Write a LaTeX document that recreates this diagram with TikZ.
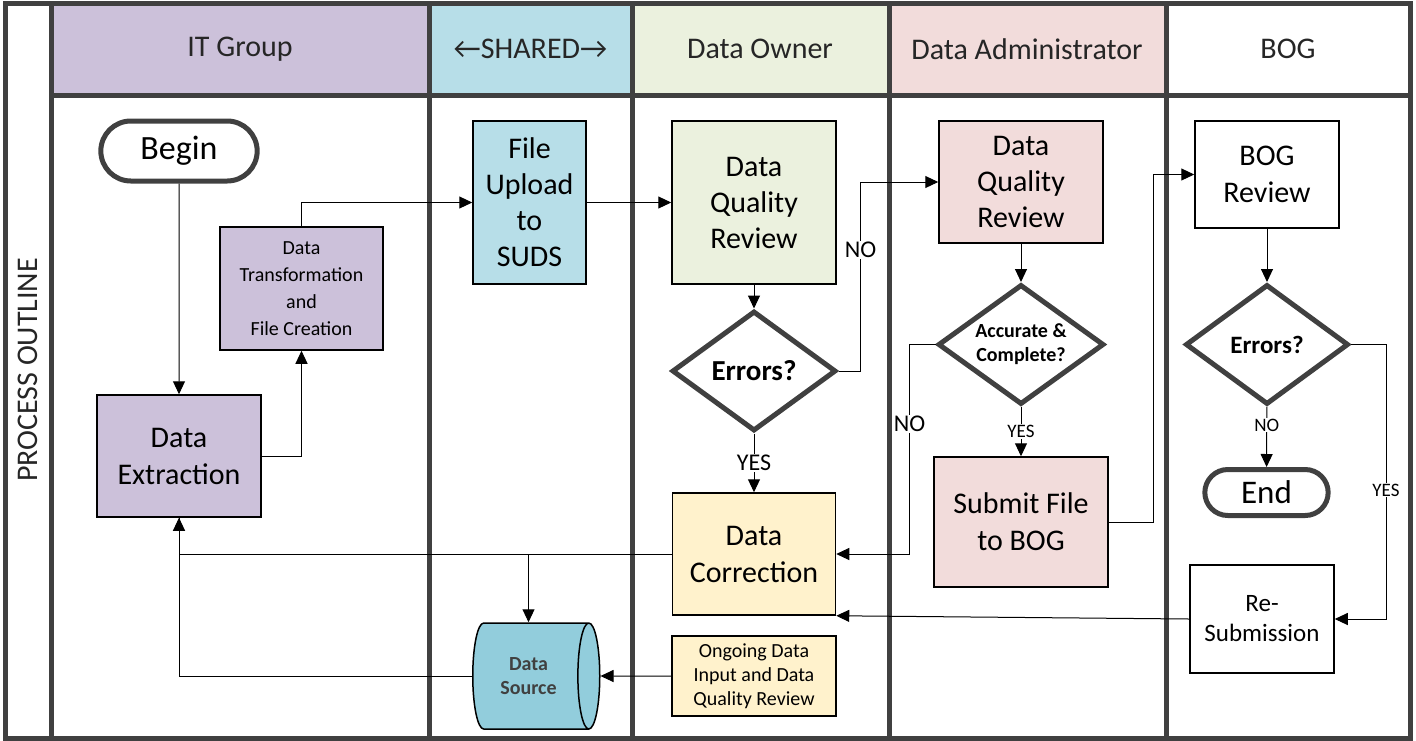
\documentclass[tikz,border=0pt]{standalone}
\usepackage{fontspec}
\setmainfont{Carlito}
\usetikzlibrary{arrows.meta,shapes.geometric,shapes.misc}
\definecolor{lanegray}{HTML}{404040}
\definecolor{itpurple}{HTML}{CCC1DA}
\definecolor{sharedblue}{HTML}{B7DEE8}
\definecolor{ownergreen}{HTML}{EBF1DE}
\definecolor{adminpink}{HTML}{F2DCDB}
\definecolor{corryellow}{HTML}{FFF2CC}
\definecolor{sourceblue}{HTML}{92CDDC}

\begin{document}
\begin{tikzpicture}[x=1pt,y=-1pt,
	box/.style={draw,line width=1.5pt,align=center,inner sep=2pt,font=\fontsize{30}{37}\selectfont},
	smallbox/.style={box,font=\fontsize{20}{24}\selectfont},
	decide/.style={diamond,aspect=1.35,draw=lanegray,fill=white,line width=5pt,inner sep=0pt,align=center,font=\bfseries\fontsize{29}{35}\selectfont},
	terminal/.style={rounded rectangle,draw=lanegray,line width=5pt,font=\fontsize{34}{40}\selectfont},
	flow/.style={-{Triangle[length=13pt,width=12pt]},line width=1pt},
	lbl/.style={fill=white,inner sep=1pt,font=\fontsize{19}{22}\selectfont},
	biglbl/.style={lbl,font=\fontsize{24}{28}\selectfont},
	lanetitle/.style={text=black!85,font=\fontsize{30}{36}\selectfont}]
	\useasboundingbox (0,0) rectangle (1416,740);
	% header colours
	\fill[itpurple] (51,3) rectangle (429,95);
	\fill[sharedblue] (429,3) rectangle (632,95);
	\fill[ownergreen] (632,3) rectangle (889,95);
	\fill[adminpink] (889,3) rectangle (1166,95);
	% swim lanes
	\draw[lanegray,line width=5pt] (5.5,3) rectangle (1410,738);
	\foreach \x in {51,429,632,889,1166}
	{
		\draw[lanegray,line width=5pt] (\x,3) -- (\x,738);
	}
	\draw[lanegray,line width=5pt] (51,95) -- (1410,95);
	\node[lanetitle,rotate=90] (outline) at (28,370) {PROCESS OUTLINE};
	\node[lanetitle] (itgroup) at (240,49) {IT Group};
	\node[lanetitle] (shared) at (530.5,49) {←SHARED→};
	\node[lanetitle] (owner) at (760,49) {Data Owner};
	\node[lanetitle] (admin) at (1027,49) {Data Administrator};
	\node[lanetitle] (bog) at (1288,49) {BOG};

	% IT group
	\node[terminal,minimum width=163pt,minimum height=60pt] (begin) at (179,151) {Begin};
	\node[box,fill=itpurple,minimum width=164pt,minimum height=122pt] (extract) at (179,456) {Data\\Extraction};
	\node[smallbox,fill=itpurple,minimum width=163pt,minimum height=123pt,font=\fontsize{20}{27}\selectfont] (transform) at (301.5,288.5) {Data\\Transformation\\and\\File Creation};
	% shared
	\node[box,fill=sharedblue,minimum width=113pt,minimum height=163pt,font=\fontsize{30}{36}\selectfont] (upload) at (529.5,202.5) {File\\Upload\\to\\SUDS};
	\node[cylinder,shape aspect=0.5,draw,line width=1.5pt,fill=sourceblue,minimum width=106pt,minimum height=127pt,text=black!75,align=center,font=\bfseries\fontsize{20}{24}\selectfont] (source) at (528.5,676) {Data\\Source};
	% data owner
	\node[box,fill=ownergreen,minimum width=164pt,minimum height=163pt,font=\fontsize{30}{36}\selectfont] (ownerdqr) at (754,202.5) {Data\\Quality\\Review};
	\node[decide,minimum width=164pt,minimum height=120pt] (ownererr) at (754,371) {Errors?};
	\node[box,fill=corryellow,minimum width=163pt,minimum height=122pt] (correct) at (754,554) {Data\\Correction};
	\node[smallbox,fill=corryellow,minimum width=164pt,minimum height=80pt] (ongoing) at (754,676) {Ongoing Data\\Input and Data\\Quality Review};
	% data administrator
	\node[box,fill=adminpink,minimum width=164pt,minimum height=122pt,font=\fontsize{30}{36}\selectfont] (admindqr) at (1021,182) {Data\\Quality\\Review};
	\node[decide,minimum width=166pt,minimum height=120pt,font=\bfseries\fontsize{20}{24}\selectfont] (adminerr) at (1021,344.5) {Accurate \&\\Complete?};
	\node[box,fill=adminpink,minimum width=174pt,minimum height=130pt] (submit) at (1021,522) {Submit File\\to BOG};
	% BOG
	\node[box,minimum width=144pt,minimum height=107pt] (bogrev) at (1267,174.5) {BOG\\Review};
	\node[decide,minimum width=163pt,minimum height=120pt,font=\bfseries\fontsize{25}{30}\selectfont] (bogerr) at (1267,344.5) {Errors?};
	\node[terminal,minimum width=130pt,minimum height=46pt,font=\fontsize{33}{40}\selectfont] (endnode) at (1266.5,492.5) {End};
	\node[box,minimum width=144pt,minimum height=108pt,font=\fontsize{25}{30}\selectfont] (resub) at (1262,619) {Re-\\Submission};

	% flow
	\draw[flow] (begin) -- (extract);
	\draw[flow] (extract.east) -| (transform.south);
	\draw[flow] (transform.north) |- (upload.west);
	\draw[flow] (upload) -- (ownerdqr);
	\draw[flow] (ownerdqr) -- (ownererr);
	\draw[flow] (ownererr) -- node[biglbl] {YES} (correct);
	\draw[flow] (ownererr.east) -- ++(22,0) |- node[biglbl,pos=0.32] {NO} (admindqr.west);
	\draw[flow] (admindqr) -- (adminerr);
	\draw[flow] (adminerr) -- node[lbl] {YES} (submit);
	\draw[flow] (adminerr.west) -- ++(-26,0) |- node[biglbl,pos=0.19] {NO} (correct.east);
	\draw[flow] (submit.east) -- ++(45,0) |- (bogrev.west);
	\draw[flow] (bogrev) -- (bogerr);
	\draw[flow] (bogerr) -- node[lbl,pos=0.3] {NO} (endnode);
	\draw[flow] (bogerr.east) -- ++(35,0) |- node[lbl,pos=0.265] {YES} (resub.east);
	\draw[flow] (resub.west) -- (correct.south east);
	\draw[flow] (correct.west) -| (extract.south);
	\coordinate (split) at (source.north |- correct.west);
	\draw[flow] (split) -- (source.north);
	\draw[flow] (ongoing.west) -- (source.east);
	\draw[line width=1pt] (source.west) -| (extract.south);
\end{tikzpicture}
\end{document}
